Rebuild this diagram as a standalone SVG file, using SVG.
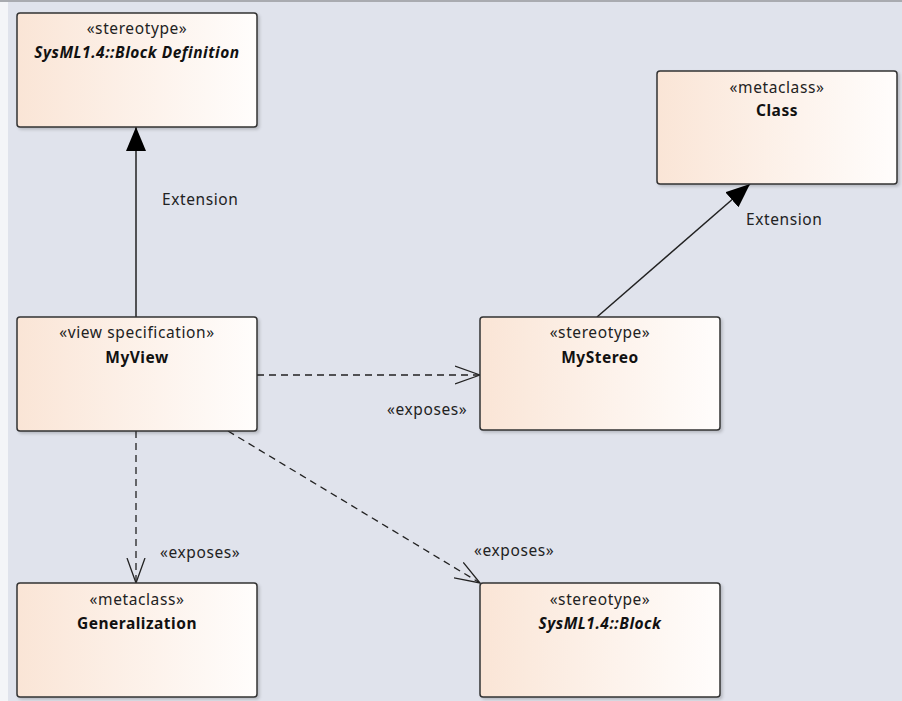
<svg xmlns="http://www.w3.org/2000/svg" width="902" height="701" viewBox="0 0 902 701">
<defs>
<linearGradient id="g" x1="0" y1="0" x2="1" y2="0">
<stop offset="0" stop-color="#fae5d6"/>
<stop offset="1" stop-color="#fffdfc"/>
</linearGradient>
<filter id="sh" x="-5%" y="-5%" width="115%" height="115%">
<feDropShadow dx="2" dy="2" stdDeviation="1.5" flood-color="#000" flood-opacity="0.18"/>
</filter>
<marker id="tri" viewBox="0 0 24 20" refX="24" refY="10" markerWidth="24" markerHeight="20" markerUnits="userSpaceOnUse" orient="auto">
<path d="M0,0 L24,10 L0,20 Z" fill="#000"/>
</marker>
<marker id="open" viewBox="0 0 26 20" refX="25" refY="10" markerWidth="26" markerHeight="20" markerUnits="userSpaceOnUse" orient="auto">
<path d="M0,1 L25,10 L0,19" fill="none" stroke="#222" stroke-width="1.3"/>
</marker>
</defs>
<style>
.box{fill:url(#g);stroke:#333;stroke-width:1.5;filter:url(#sh)}
.st{font-family:"Noto Sans","Open Sans",sans-serif;font-size:15.5px;letter-spacing:0.6px;fill:#222;text-anchor:middle}
.nm{font-family:"Noto Sans","Open Sans",sans-serif;font-size:15.5px;letter-spacing:0.5px;font-weight:bold;fill:#111;text-anchor:middle}
.it{font-style:italic}
.lb{font-family:"Noto Sans","Open Sans",sans-serif;font-size:15.5px;letter-spacing:0.6px;fill:#222}
.solid{stroke:#222;stroke-width:1.5;fill:none}
.dash{stroke:#222;stroke-width:1.3;fill:none;stroke-dasharray:7,5}
</style>
<rect x="0" y="0" width="902" height="701" fill="#e0e3ec"/>
<rect x="0" y="0" width="8" height="701" fill="#f4f5f8"/>
<rect x="0" y="0" width="902" height="2" fill="#a9abb0"/>

<g id="connectors">
<line class="solid" x1="136" y1="317" x2="136" y2="127" marker-end="url(#tri)"/>
<text class="lb" x="162" y="205">Extension</text>
<line class="solid" x1="597" y1="317" x2="750" y2="184" marker-end="url(#tri)"/>
<text class="lb" x="746" y="225">Extension</text>
<line class="dash" x1="257" y1="375" x2="480" y2="375" marker-end="url(#open)"/>
<text class="lb" x="387" y="415">«exposes»</text>
<line class="dash" x1="136" y1="431" x2="136" y2="583" marker-end="url(#open)"/>
<text class="lb" x="160" y="558">«exposes»</text>
<line class="dash" x1="228" y1="431" x2="480" y2="583" marker-end="url(#open)"/>
<text class="lb" x="474" y="556">«exposes»</text>
</g>

<g id="blockdef">
<rect class="box" x="17" y="13" width="240" height="114" rx="3"/>
<text class="st" x="137" y="34">«stereotype»</text>
<text class="nm it" x="137" y="58">SysML1.4::Block Definition</text>
</g>
<g id="class">
<rect class="box" x="657" y="71" width="240" height="113" rx="3"/>
<text class="st" x="777" y="93">«metaclass»</text>
<text class="nm" x="777" y="116">Class</text>
</g>
<g id="myview">
<rect class="box" x="17" y="317" width="240" height="114" rx="3"/>
<text class="st" x="137" y="338">«view specification»</text>
<text class="nm" x="137" y="363">MyView</text>
</g>
<g id="mystereo">
<rect class="box" x="480" y="317" width="240" height="113" rx="3"/>
<text class="st" x="600" y="338">«stereotype»</text>
<text class="nm" x="600" y="363">MyStereo</text>
</g>
<g id="generalization">
<rect class="box" x="17" y="583" width="240" height="114" rx="3"/>
<text class="st" x="137" y="605">«metaclass»</text>
<text class="nm" x="137" y="629">Generalization</text>
</g>
<g id="block">
<rect class="box" x="480" y="583" width="240" height="114" rx="3"/>
<text class="st" x="600" y="605">«stereotype»</text>
<text class="nm it" x="600" y="629">SysML1.4::Block</text>
</g>
</svg>
